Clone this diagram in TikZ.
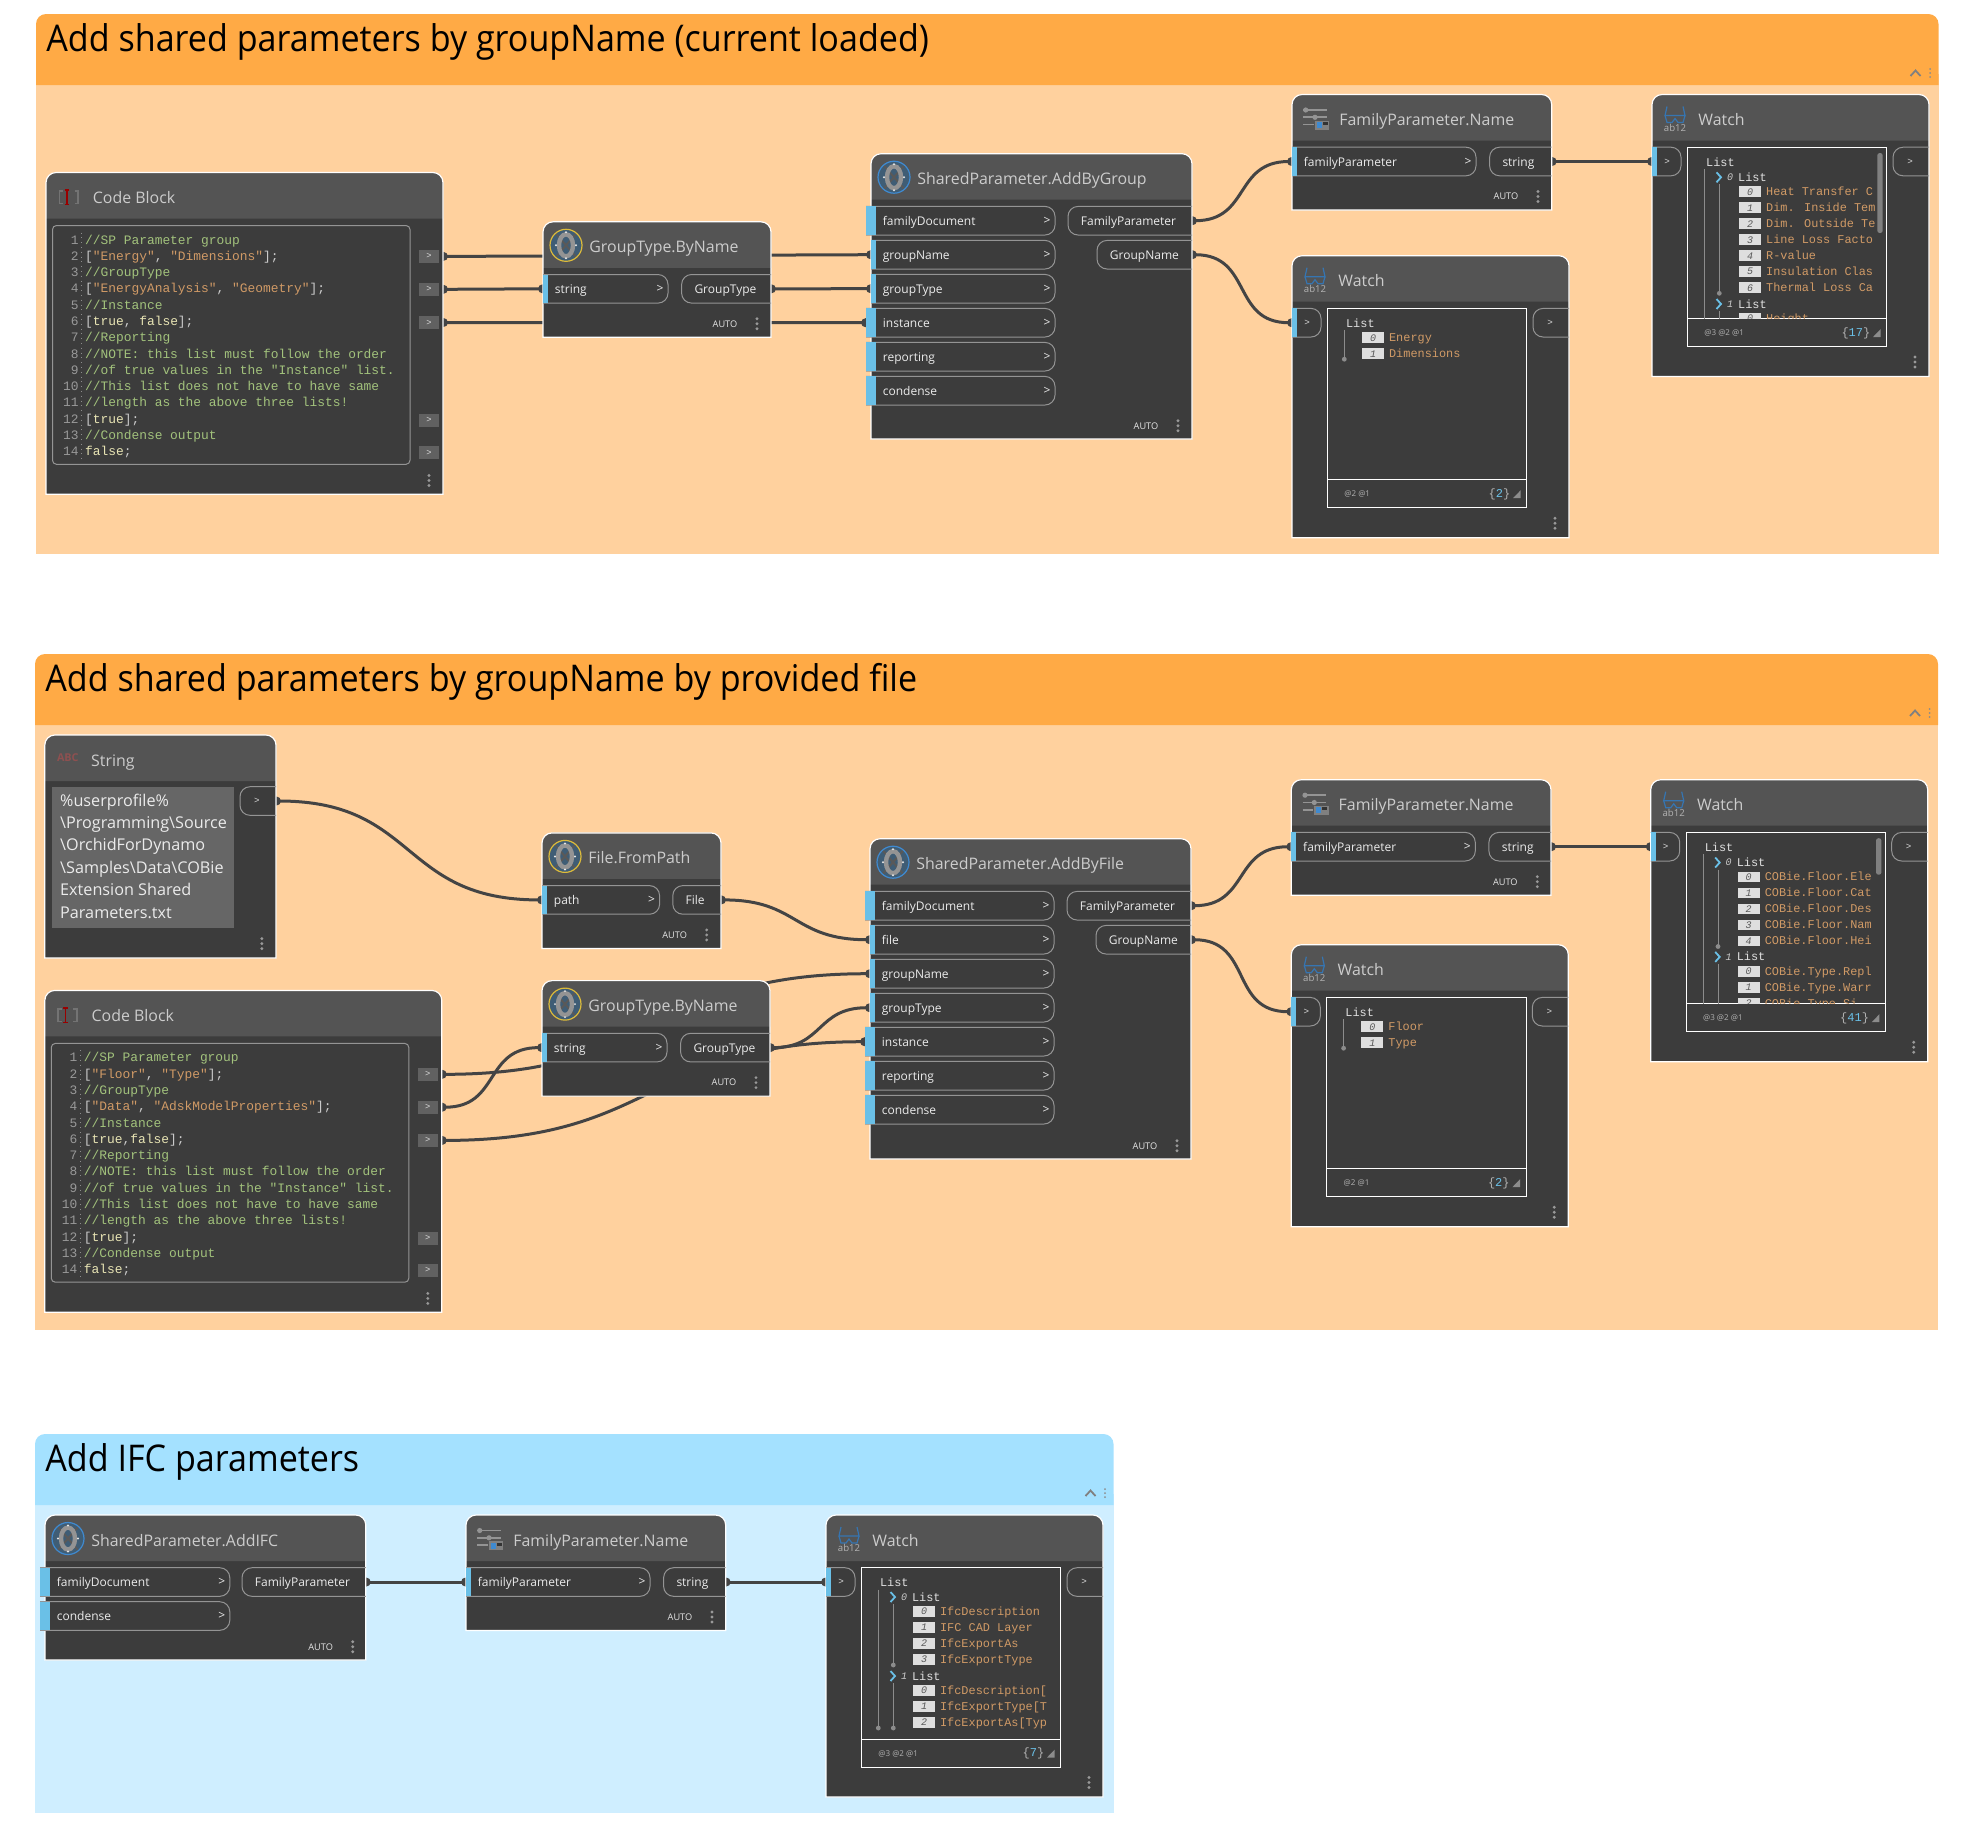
\documentclass[tikz,border=0pt]{standalone}
\usepackage{fontspec}
\usetikzlibrary{arrows.meta}
\setmainfont{Open Sans}
\newfontfamily\titlefont[FakeStretch=0.926]{Open Sans}
\newfontfamily\codefont{Liberation Mono}

\definecolor{orangehead}{HTML}{FFAA45}
\definecolor{orangebody}{HTML}{FFD19E}
\definecolor{bluehead}{HTML}{A4E1FF}
\definecolor{bluebody}{HTML}{CFEEFF}
\definecolor{bodygray}{HTML}{3C3C3C}
\definecolor{headgray}{HTML}{545454}
\definecolor{tabblue}{HTML}{6AC0E7}
\definecolor{wiregray}{HTML}{444444}
\definecolor{commentgreen}{HTML}{A2C27C}
\definecolor{stringorange}{HTML}{D09A66}
\definecolor{boolyellow}{HTML}{E8E4B4}
\definecolor{iconslate}{HTML}{3F5D75}
\definecolor{ringyellow}{HTML}{DDBB3A}
\definecolor{ringblue}{HTML}{3F8AD0}
\definecolor{abcred}{HTML}{8E5050}

\pgfdeclarelayer{groups}
\pgfdeclarelayer{wires}
\pgfsetlayers{groups,wires,main}

\begin{document}
\begin{tikzpicture}[x=0.5pt,y=-0.5pt,
    grouptitle/.style={anchor=base west,inner sep=0pt,text=black,font=\titlefont\fontsize{18.4}{20}\selectfont},
    nodetitle/.style={anchor=base west,inner sep=0pt,text=black!20,font=\fontsize{7.95}{10}\selectfont},
    portshape/.style={inner sep=0pt,outer sep=0pt,minimum height=14.3pt},
    portline/.style={draw=black!42,line width=0.5pt,rounded corners=5pt},
    portlabel/.style={anchor=base west,inner sep=0pt,text=black!8,font=\fontsize{6}{8}\selectfont},
    portgt/.style={inner sep=0pt,text=black!8,font=\fontsize{6}{8}\selectfont},
    smallgt/.style={inner sep=0pt,text=black!15,font=\codefont\fontsize{4.6}{6}\selectfont},
    autotag/.style={inner sep=0pt,text=black!10,font=\fontsize{4.6}{6}\selectfont},
    codeport/.style={fill=black!62,text=black!15,inner sep=0pt,minimum width=10pt,minimum height=6.5pt,outer xsep=2pt,font=\codefont\fontsize{4.4}{5}\selectfont},
    codetext/.style={anchor=base west,inner sep=0pt,text=black!20,font=\codefont\fontsize{6.45}{8}\selectfont},
    linenum/.style={anchor=base east,inner sep=0pt,text=black!40,font=\codefont\fontsize{6.45}{8}\selectfont},
    rowbox/.style={fill=black!13,text=black!65,inner sep=0pt,minimum width=11pt,minimum height=5.4pt,font=\codefont\itshape\fontsize{5}{5}\selectfont},
    rowtext/.style={anchor=base west,inner sep=0pt,text=stringorange,font=\codefont\fontsize{5.94}{7}\selectfont},
    listtext/.style={anchor=base west,inner sep=0pt,text=black!12,font=\codefont\fontsize{5.94}{7}\selectfont},
    footertext/.style={anchor=west,inner sep=0pt,text=black!30,font=\fontsize{4}{5}\selectfont},
    treeline/.style={draw=black!45,line width=0.5pt},
    wire/.style={draw=wiregray,line width=1.5pt,out=0,in=180,looseness=1.28,
      {Circle[length=4.4pt]}-{Circle[length=4.4pt]},shorten <=-2pt,shorten >=-2pt}]

  % Page size
  \useasboundingbox (0,0) rectangle (1974,1838);

  % Three small dots
  \def\menudots#1#2{
    \foreach \d in {-5,0,5} \fill[black!40] (#1,#2+\d) circle [radius=1.6];
  }

  % Coloured group: name, x, y, width, height, head colour, body colour, title
  \def\dyngroup#1#2#3#4#5#6#7#8{
    \begin{pgfonlayer}{groups}
      \begin{scope}[shift={(#2,#3)}]
        \fill[#7] (0,60) rectangle (#4,#5);
        \fill[#6] (0,71) [rounded corners=5pt] -- (0,0) -- (#4,0) [sharp corners] -- (#4,71) -- cycle;
        \node[grouptitle] (#1) at (10,37) {#8};
        \draw[black!50,line width=0.9pt] (#4-28,62) -- (#4-23,56.5) -- (#4-18,62);
        \foreach \d in {-4,0,4} \fill[black!45] (#4-8.5,59+\d) circle [radius=1];
      \end{scope}
    \end{pgfonlayer}
  }

  % Node frame: width, height
  \def\nodeframe#1#2{
    \fill[bodygray] (0,#2) [rounded corners=5pt] -- (0,0) -- (#1,0) [sharp corners] -- (#1,#2) -- cycle;
    \fill[headgray] (0,46) [rounded corners=5pt] -- (0,0) -- (#1,0) [sharp corners] -- (#1,46) -- cycle;
    \draw[white,line width=0.6pt] (0,#2) [rounded corners=5pt] -- (0,0) -- (#1,0) [sharp corners] -- (#1,#2) -- cycle;
  }

  % Round icon of a function: ring colour
  \def\funcicon#1{
    \fill[iconslate] (23,23.5) circle [radius=16];
    \draw[black!65,line width=1pt] (13,12) -- (33,35) (33,12) -- (13,35);
    \draw[#1,line width=0.6pt] (23,23.5) circle [radius=16];
    \draw[black!42,line width=2.2pt] (23,23.5) circle [x radius=7,y radius=11];
    \fill[black!10] (13,23.5) circle [radius=1.1] (33,23.5) circle [radius=1.1] (23,10.5) circle [radius=1.1] (23,36.5) circle [radius=1.1];
  }

  % Slider icon of the parameter node
  \def\slidericon{
    \draw[black!42,line width=0.9pt] (11.3,15.5) -- (34.7,15.5) (11.3,22.8) -- (34.7,22.8) (11.3,30) -- (22,30);
    \fill[black!42] (13.7,15.5) circle [radius=2.6] (23,22.8) circle [radius=2.6];
    \fill[black!50] (23,26) rectangle (37.3,35);
    \fill[ringblue] (25,27.5) rectangle (30,33.5);
    \fill[black!80] (30.5,27.5) rectangle (35.5,30.5);
  }

  % Glasses icon of the watch node
  \def\watchicon{
    \draw[ringblue!85!black,line width=0.6pt] (15,12) -- (13,21) -- (33,21) -- (31,12);
    \draw[ringblue!85!black,line width=0.6pt] (13,21) -- (15,28) -- (20,28) -- (23,24) -- (26,28) -- (31,28) -- (33,21);
    \node[inner sep=0pt,text=black!30,font=\fontsize{4.8}{5}\selectfont] (\wname-ab) at (23,33) {ab12};
  }

  % Input port shape: name, x start, y, x end
  \def\inshape#1#2#3#4{
    \node[portshape,anchor=west,minimum width={(#4-(#2))*0.5pt}] (#1) at (#2,#3) {};
    \draw[portline] (#1.north west) -- (#1.north east) -- (#1.south east) -- (#1.south west);
    \fill[tabblue] (#1.north west) rectangle (5,#3+14.3);
  }

  % Input port with label
  \def\inport#1#2#3#4#5{
    \inshape{#1}{#2}{#3}{#4}
    \node[portlabel] (#1-txt) at (11.5,#3+4.5) {#5};
    \node[portgt] (#1-gt) at (#4-8,#3) {>};
  }

  % Output port shape: name, x start, y, x end
  \def\outshape#1#2#3#4{
    \node[portshape,anchor=east,minimum width={(#4-#2)*0.5pt}] (#1) at (#4,#3) {};
    \draw[portline] (#1.north east) -- (#1.north west) -- (#1.south west) -- (#1.south east);
  }

  % Output port with label
  \def\outport#1#2#3#4#5{
    \outshape{#1}{#2}{#3}{#4}
    \node[portlabel] (#1-txt) at (#2+12.5,#3+4.5) {#5};
  }

  % AUTO mark: name, x of dots, y
  \def\autodots#1#2#3{
    \node[autotag] (#1-auto) at (#2-32,#3) {AUTO};
    \menudots{#2}{#3}
  }

  % Function node: name, x, y, width, height, ring colour, title, ports
  \def\funcnode#1#2#3#4#5#6#7#8{
    \begin{scope}[shift={(#2,#3)}]
      \nodeframe{#4}{#5}
      \funcicon{#6}
      \node[nodetitle] (#1) at (46,31) {#7};
      #8
    \end{scope}
  }

  % Parameter name node: name, x, y
  \def\paramnode#1#2#3{
    \begin{scope}[shift={(#2,#3)}]
      \nodeframe{259.7}{115.5}
      \slidericon
      \node[nodetitle] (#1) at (47,31) {FamilyParameter.Name};
      \inport{#1-in}{0}{67}{184}{familyParameter}
      \outport{#1-out}{197.6}{67}{259.7}{string}
      \autodots{#1}{246}{102}
    \end{scope}
  }

  % Watch node: name, x, y, end of outer line, footer, count, content
  \def\watchnode#1#2#3#4#5#6#7{
    \begin{scope}[shift={(#2,#3)}]
      \def\wname{#1}
      \nodeframe{277}{282}
      \watchicon
      \node[nodetitle] (#1) at (46,31) {Watch};
      \inshape{#1-in}{0}{67}{29}
      \node[smallgt] (#1-gt1) at (15,67) {>};
      \outshape{#1-out}{241}{67}{277}
      \node[smallgt] (#1-gt2) at (258,67) {>};
      \draw[white,line width=0.5pt] (35.3,52.8) rectangle (234.7,252.2);
      \draw[white,line width=0.5pt] (35.3,224) -- (234.7,224);
      \begin{scope}
        \clip (35.3,52.8) rectangle (234.7,224);
        \node[listtext] (#1-top) at (53.7,71.5) {List};
        \draw[treeline] (52.3,74.5) -- (52.3,#4);
        \fill[black!45] (52.3,#4) circle [radius=2.4];
        #7
      \end{scope}
      \node[footertext] (#1-at) at (52,238.5) {#5};
      \node[anchor=east,inner sep=0pt,text=black!30,font=\codefont\fontsize{6}{7}\selectfont] (#1-count) at (218.7,238.5) {\{\textcolor{tabblue}{#6}\}};
      \fill[black!45] (221,242.5) -- (228.7,242.5) -- (228.7,234.5) -- cycle;
      \menudots{263}{267.5}
    \end{scope}
  }

  % Rows of a list: y of first row, x of box, rows
  \def\listrows#1#2#3{
    \foreach \idx/\rowtxt [count=\n from 0] in {#3} {
      \pgfmathsetmacro\rowy{#1+16*\n}
      \node[rowbox] (\wname-b#1-\n) at (#2,\rowy) {\idx};
      \node[rowtext] (\wname-t#1-\n) at (#2+15.7,\rowy+3.8) {\rowtxt};
    }
  }

  % Nested list: y of head, index, y of end of its line, rows
  \def\treelist#1#2#3#4{
    \draw[tabblue,line width=0.9pt] (64.5,#1-5) -- (69,#1) -- (64.5,#1+5);
    \node[rowbox,fill=none,text=black!20,minimum width=0pt] (\wname-i#1) at (78,#1) {#2};
    \node[listtext] (\wname-h#1) at (85.7,#1+4) {List};
    \draw[treeline] (67.3,#1+7) -- (67.3,#3);
    \fill[black!45] (67.3,#3) circle [radius=2.4];
    \listrows{#1+14.4}{98}{#4}
  }

  % Text helpers of the code
  \def\cmt#1{\textcolor{commentgreen}{#1}}
  \def\strq#1{\textcolor{stringorange}{#1}}
  \def\bool#1{\textcolor{boolyellow}{#1}}

  % One line of code: row, text
  \def\codeline#1#2{
    \pgfmathsetmacro\rowy{71.5+16.29*(#1-1)}
    \node[linenum] (\cbname-n#1) at (33,\rowy) {#1};
    \node[codetext] (\cbname-l#1) at (38.7,\rowy) {#2};
  }

  % Code block node: name, x, y, the lines that differ
  \def\codenode#1#2#3#4{
    \begin{scope}[shift={(#2,#3)}]
      \def\cbname{#1}
      \nodeframe{397}{321.8}
      \draw[black!42,line width=0.5pt,rounded corners=2pt] (6.5,53) rectangle (364,291.8);
      \draw[black!55,line width=0.9pt] (17,18.5) -- (13.5,18.5) -- (13.5,31) -- (17,31);
      \draw[black!55,line width=0.9pt] (28.5,18.5) -- (32,18.5) -- (32,31) -- (28.5,31);
      \draw[red!60!black,line width=0.8pt] (20.8,17.5) -- (20.8,32) (18.5,17.5) -- (23,17.5) (18.5,32) -- (23,32);
      \node[nodetitle] (#1) at (46.5,31) {Code Block};
      \draw[black!45,line width=0.4pt,dotted] (35.6,60) -- (35.6,288);
      \codeline{1}{\cmt{//SP Parameter group}}
      \codeline{3}{\cmt{//GroupType}}
      \codeline{5}{\cmt{//Instance}}
      \codeline{7}{\cmt{//Reporting}}
      \codeline{8}{\cmt{//NOTE: this list must follow the order}}
      \codeline{9}{\cmt{//of true values in the "Instance" list.}}
      \codeline{10}{\cmt{//This list does not have to have same}}
      \codeline{11}{\cmt{//length as the above three lists!}}
      \codeline{12}{[\bool{true}];}
      \codeline{13}{\cmt{//Condense output}}
      \codeline{14}{\bool{false};}
      #4
      \foreach \r/\py in {2/83.9,4/116.8,6/150,12/247.9,14/280}
        \node[codeport] (#1-\r) at (383,\py) {>};
      \menudots{383}{308}
    \end{scope}
  }

  % Groups
  \dyngroup{group1}{36}{14}{1902.5}{540}{orangehead}{orangebody}{Add shared parameters by groupName (current loaded)}
  \dyngroup{group2}{35}{654}{1903}{675.5}{orangehead}{orangebody}{Add shared parameters by groupName by provided file}
  \dyngroup{group3}{35}{1434}{1078.5}{378.7}{bluehead}{bluebody}{Add IFC parameters}

  % First group
  \codenode{cb1}{46}{172.5}{
    \codeline{2}{[\strq{"Energy"}, \strq{"Dimensions"}];}
    \codeline{4}{[\strq{"EnergyAnalysis"}, \strq{"Geometry"}];}
    \codeline{6}{[\bool{true}, \bool{false}];}
  }
  \funcnode{gt1}{543}{221.8}{228}{115.5}{ringyellow}{GroupType.ByName}{
    \inport{gt1-in}{0}{67}{125}{string}
    \outport{gt1-out}{138.6}{67}{228}{GroupType}
    \autodots{gt1}{214}{102}
  }
  \funcnode{sp1}{871}{153.7}{321}{285.3}{ringblue}{SharedParameter.AddByGroup}{
    \inport{sp1-doc}{-5}{67}{184}{familyDocument}
    \inport{sp1-name}{0}{101}{184}{groupName}
    \inport{sp1-type}{0}{135}{184}{groupType}
    \inport{sp1-inst}{-5}{169}{184}{instance}
    \inport{sp1-rep}{-5}{203}{184}{reporting}
    \inport{sp1-cond}{-5}{237}{184}{condense}
    \outport{sp1-out1}{197}{67}{321}{FamilyParameter}
    \outport{sp1-out2}{226}{101}{321}{GroupName}
    \autodots{sp1}{307}{272}
  }
  \paramnode{fp1}{1292}{94.5}
  \watchnode{w1}{1652}{94.5}{240}{@3 @2 @1}{17}{
    \treelist{82.8}{0}{198.8}{0/Heat Transfer C,1/Dim. Inside Tem,2/Dim. Outside Te,3/Line Loss Facto,4/R-value,5/Insulation Clas,6/Thermal Loss Ca}
    \treelist{209.5}{1}{240}{0/Height}
    \fill[black!50,rounded corners=1.2pt] (225.3,58.5) rectangle (230.7,138.5);
  }
  \watchnode{w2}{1292}{255.7}{103.5}{@2 @1}{2}{
    \listrows{82}{81}{0/Energy,1/Dimensions}
  }

  % Second group
  \begin{scope}[shift={(44.8,735)}]
    \nodeframe{231.2}{223}
    \node[inner sep=0pt,text=abcred,font=\bfseries\fontsize{5.4}{6}\selectfont] (st-icon) at (23,23) {ABC};
    \node[nodetitle] (st) at (46,31) {String};
    \fill[black!60] (7,52.3) rectangle (189,193);
    \foreach \rowtxt [count=\n from 0] in {\%userprofile\%,\textbackslash Programming\textbackslash Source,\textbackslash OrchidForDynamo,\textbackslash Samples\textbackslash Data\textbackslash COBie,Extension Shared,Parameters.txt}
      \node[portlabel,font=\fontsize{8.1}{9}\selectfont] (st-l\n) at (15,71+22.4*\n) {\rowtxt};
    \outshape{st-out}{195.2}{66}{231.2}
    \node[smallgt] (st-gt) at (212,66) {>};
    \menudots{217}{208.6}
  \end{scope}
  \funcnode{ff}{542}{832.9}{179}{115.5}{ringyellow}{File.FromPath}{
    \inport{ff-in}{0}{67}{117.6}{path}
    \outport{ff-out}{130.8}{67}{179}{File}
    \autodots{ff}{164.7}{102}
  }
  \codenode{cb2}{44.8}{990.4}{
    \codeline{2}{[\strq{"Floor"}, \strq{"Type"}];}
    \codeline{4}{[\strq{"Data"}, \strq{"AdskModelProperties"}];}
    \codeline{6}{[\bool{true},\bool{false}];}
  }
  \funcnode{gt2}{542}{980.6}{228}{115.5}{ringyellow}{GroupType.ByName}{
    \inport{gt2-in}{0}{67}{125}{string}
    \outport{gt2-out}{138.6}{67}{228}{GroupType}
    \autodots{gt2}{214}{102}
  }
  \funcnode{sp2}{870}{838.7}{321}{320.3}{ringblue}{SharedParameter.AddByFile}{
    \inport{sp2-doc}{-5}{67}{184}{familyDocument}
    \inport{sp2-file}{0}{101}{184}{file}
    \inport{sp2-name}{0}{135}{184}{groupName}
    \inport{sp2-type}{0}{169}{184}{groupType}
    \inport{sp2-inst}{-5}{203}{184}{instance}
    \inport{sp2-rep}{-5}{237}{184}{reporting}
    \inport{sp2-cond}{-5}{271}{184}{condense}
    \outport{sp2-out1}{197}{67}{321}{FamilyParameter}
    \outport{sp2-out2}{226}{101}{321}{GroupName}
    \autodots{sp2}{307}{307}
  }
  \paramnode{fp2}{1291.3}{779.7}
  \watchnode{w3}{1650.7}{779.7}{240}{@3 @2 @1}{41}{
    \treelist{82.8}{0}{166.8}{0/COBie.Floor.Ele,1/COBie.Floor.Cat,2/COBie.Floor.Des,3/COBie.Floor.Nam,4/COBie.Floor.Hei}
    \treelist{177.2}{1}{240}{0/COBie.Type.Repl,1/COBie.Type.Warr,2/COBie.Type.Si}
    \fill[black!50,rounded corners=1.2pt] (225.3,58.5) rectangle (230.7,95);
  }
  \watchnode{w4}{1291.3}{944.7}{103.5}{@2 @1}{2}{
    \listrows{82}{81}{0/Floor,1/Type}
  }

  % Third group
  \funcnode{sp3}{45}{1515}{320.8}{145}{ringblue}{SharedParameter.AddIFC}{
    \inport{sp3-doc}{-5}{67}{184.8}{familyDocument}
    \inport{sp3-cond}{-5}{101}{184.8}{condense}
    \outport{sp3-out}{197}{67}{320.8}{FamilyParameter}
    \autodots{sp3}{307.7}{131.7}
  }
  \paramnode{fp3}{466}{1515}
  \watchnode{w5}{826}{1515}{213}{@3 @2 @1}{7}{
    \treelist{82}{0}{150}{0/IfcDescription,1/IFC CAD Layer,2/IfcExportAs,3/IfcExportType}
    \treelist{161}{1}{213}{0/IfcDescription[,1/IfcExportType[T,2/IfcExportAs[Typ}
  }

  % Wires
  \begin{pgfonlayer}{wires}
    \draw[wire] (cb1-2.east) to (sp1-name.west);
    \draw[wire] (cb1-4.east) to (gt1-in.west);
    \draw[wire] (cb1-6.east) to (sp1-inst.west);
    \draw[wire] (gt1-out.east) to (sp1-type.west);
    \draw[wire] (sp1-out1.east) to (fp1-in.west);
    \draw[wire] (sp1-out2.east) to (w2-in.west);
    \draw[wire] (fp1-out.east) to (w1-in.west);

    \draw[wire] (st-out.east) to (ff-in.west);
    \draw[wire] (ff-out.east) to (sp2-file.west);
    \draw[wire] (cb2-2.east) to (sp2-name.west);
    \draw[wire] (cb2-4.east) to (gt2-in.west);
    \draw[wire] (cb2-6.east) to (sp2-inst.west);
    \draw[wire] (gt2-out.east) to (sp2-type.west);
    \draw[wire] (sp2-out1.east) to (fp2-in.west);
    \draw[wire] (sp2-out2.east) to (w4-in.west);
    \draw[wire] (fp2-out.east) to (w3-in.west);

    \draw[wire] (sp3-out.east) to (fp3-in.west);
    \draw[wire] (fp3-out.east) to (w5-in.west);
  \end{pgfonlayer}
\end{tikzpicture}
\end{document}
